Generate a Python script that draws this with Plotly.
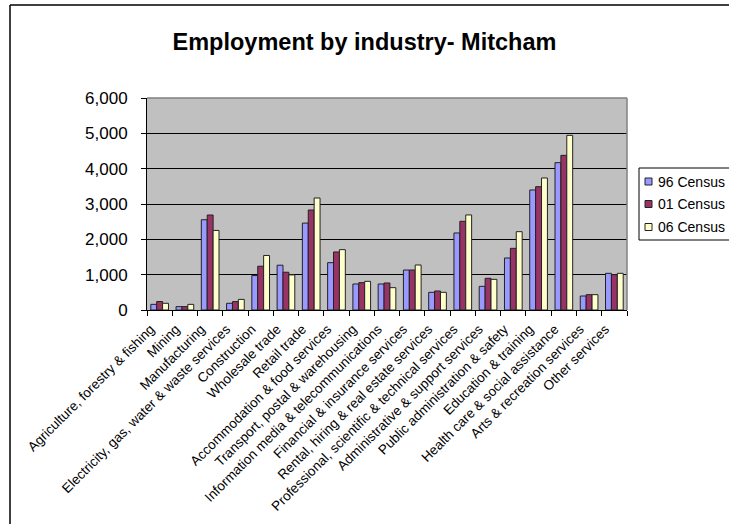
import plotly.graph_objects as go

categories = [
    "Agriculture, forestry & fishing", "Mining", "Manufacturing",
    "Electricity, gas, water & waste services", "Construction", "Wholesale trade",
    "Retail trade", "Accommodation & food services", "Transport, postal & warehousing",
    "Information media & telecommunications", "Financial & insurance services",
    "Rental, hiring & real estate services", "Professional, scientific & technical services",
    "Administrative & support services", "Public administration & safety",
    "Education & training", "Health care & social assistance",
    "Arts & recreation services", "Other services",
]
census_96 = [160, 95, 2555, 190, 975, 1268, 2460, 1340, 736, 736, 1132, 500, 2180, 670, 1472, 3397, 4170, 396, 1038]
census_01 = [240, 95, 2688, 237, 1240, 1069, 2830, 1642, 774, 765, 1132, 538, 2510, 897, 1745, 3490, 4377, 434, 1000]
census_06 = [190, 160, 2252, 300, 1543, 994, 3170, 1708, 811, 632, 1274, 500, 2690, 868, 2217, 3736, 4943, 434, 1038]
series_names = ["96 Census", "01 Census", "06 Census"]
series_colors = ["#9999FF", "#993366", "#FFFFCC"]
y_ticks = [0, 1000, 2000, 3000, 4000, 5000, 6000]

W, H = 729, 524
L, R, T, B = 147, 627, 98, 310  # plot area in pixels
pw, ph = R - L, B - T

def px(x):
    return (x - L) / pw

def py(y):
    return (B - y) / ph

fig = go.Figure()
for name, vals, col in zip(series_names, [census_96, census_01, census_06], series_colors):
    fig.add_trace(go.Bar(
        x=categories, y=vals, name=name,
        marker=dict(color=col, line=dict(color="#222222", width=1)),
        showlegend=False,
    ))

shapes = [
    dict(type="line", xref="paper", yref="paper", x0=0, x1=1, y0=1, y1=1,
         line=dict(color="#808080", width=1.5)),
    dict(type="line", xref="paper", yref="paper", x0=1, x1=1, y0=0, y1=1,
         line=dict(color="#808080", width=1.5)),
    dict(type="line", xref="paper", yref="paper", x0=px(10), x1=px(735), y0=py(5), y1=py(5),
         line=dict(color="black", width=1.5)),
    dict(type="line", xref="paper", yref="paper", x0=px(10), x1=px(10), y0=py(5), y1=py(530),
         line=dict(color="black", width=1.5)),
    dict(type="rect", xref="paper", yref="paper", x0=px(639), x1=px(740), y0=py(168), y1=py(240),
         line=dict(color="black", width=1), fillcolor="white", layer="above"),
]
annotations = []
leg_y = [181.5, 204, 227]
for name, col, yy in zip(series_names, series_colors, leg_y):
    shapes.append(dict(type="rect", xref="paper", yref="paper",
                       x0=px(645), x1=px(652), y0=py(yy - 3.5), y1=py(yy + 3.5),
                       fillcolor=col, line=dict(color="#222222", width=1), layer="above"))
    annotations.append(dict(text=name, xref="paper", yref="paper", x=px(656), y=py(yy),
                            xanchor="left", yanchor="middle", showarrow=False,
                            font=dict(family="Arial, Liberation Sans", size=14, color="black")))

fig.update_layout(
    width=W, height=H,
    margin=dict(l=L, r=W - R, t=T, b=H - B, autoexpand=False),
    paper_bgcolor="white", plot_bgcolor="#C0C0C0",
    barmode="group", bargap=0.3, bargroupgap=0,
    title=dict(text="<b>Employment by industry- Mitcham</b>", x=0.5, xref="container",
               xanchor="center", y=1 - 42 / H, yanchor="middle",
               font=dict(family="Arial, Liberation Sans", size=23.5, color="black")),
    font=dict(family="Arial, Liberation Sans", color="black"),
    shapes=shapes, annotations=annotations,
    showlegend=False,
)
fig.update_xaxes(
    type="category", tickangle=-45, tickson="boundaries",
    ticks="outside", ticklen=5, tickcolor="black",
    ticklabelstandoff=5, ticklabelshift=-9,
    showline=True, linecolor="black", linewidth=1,
    tickfont=dict(size=13.5, color="black"), showgrid=False,
)
fig.update_yaxes(
    range=[0, 6000], tickvals=y_ticks, tickformat=",d",
    ticks="outside", ticklen=5, tickcolor="black", ticklabelstandoff=10,
    showline=True, linecolor="black", linewidth=1,
    showgrid=True, gridcolor="black", gridwidth=1,
    tickfont=dict(size=17, color="black"), zeroline=False,
)

fig.write_html("out.html", config={"displayModeBar": False},
               post_script="document.body.style.margin='0';document.body.style.overflow='hidden';")
